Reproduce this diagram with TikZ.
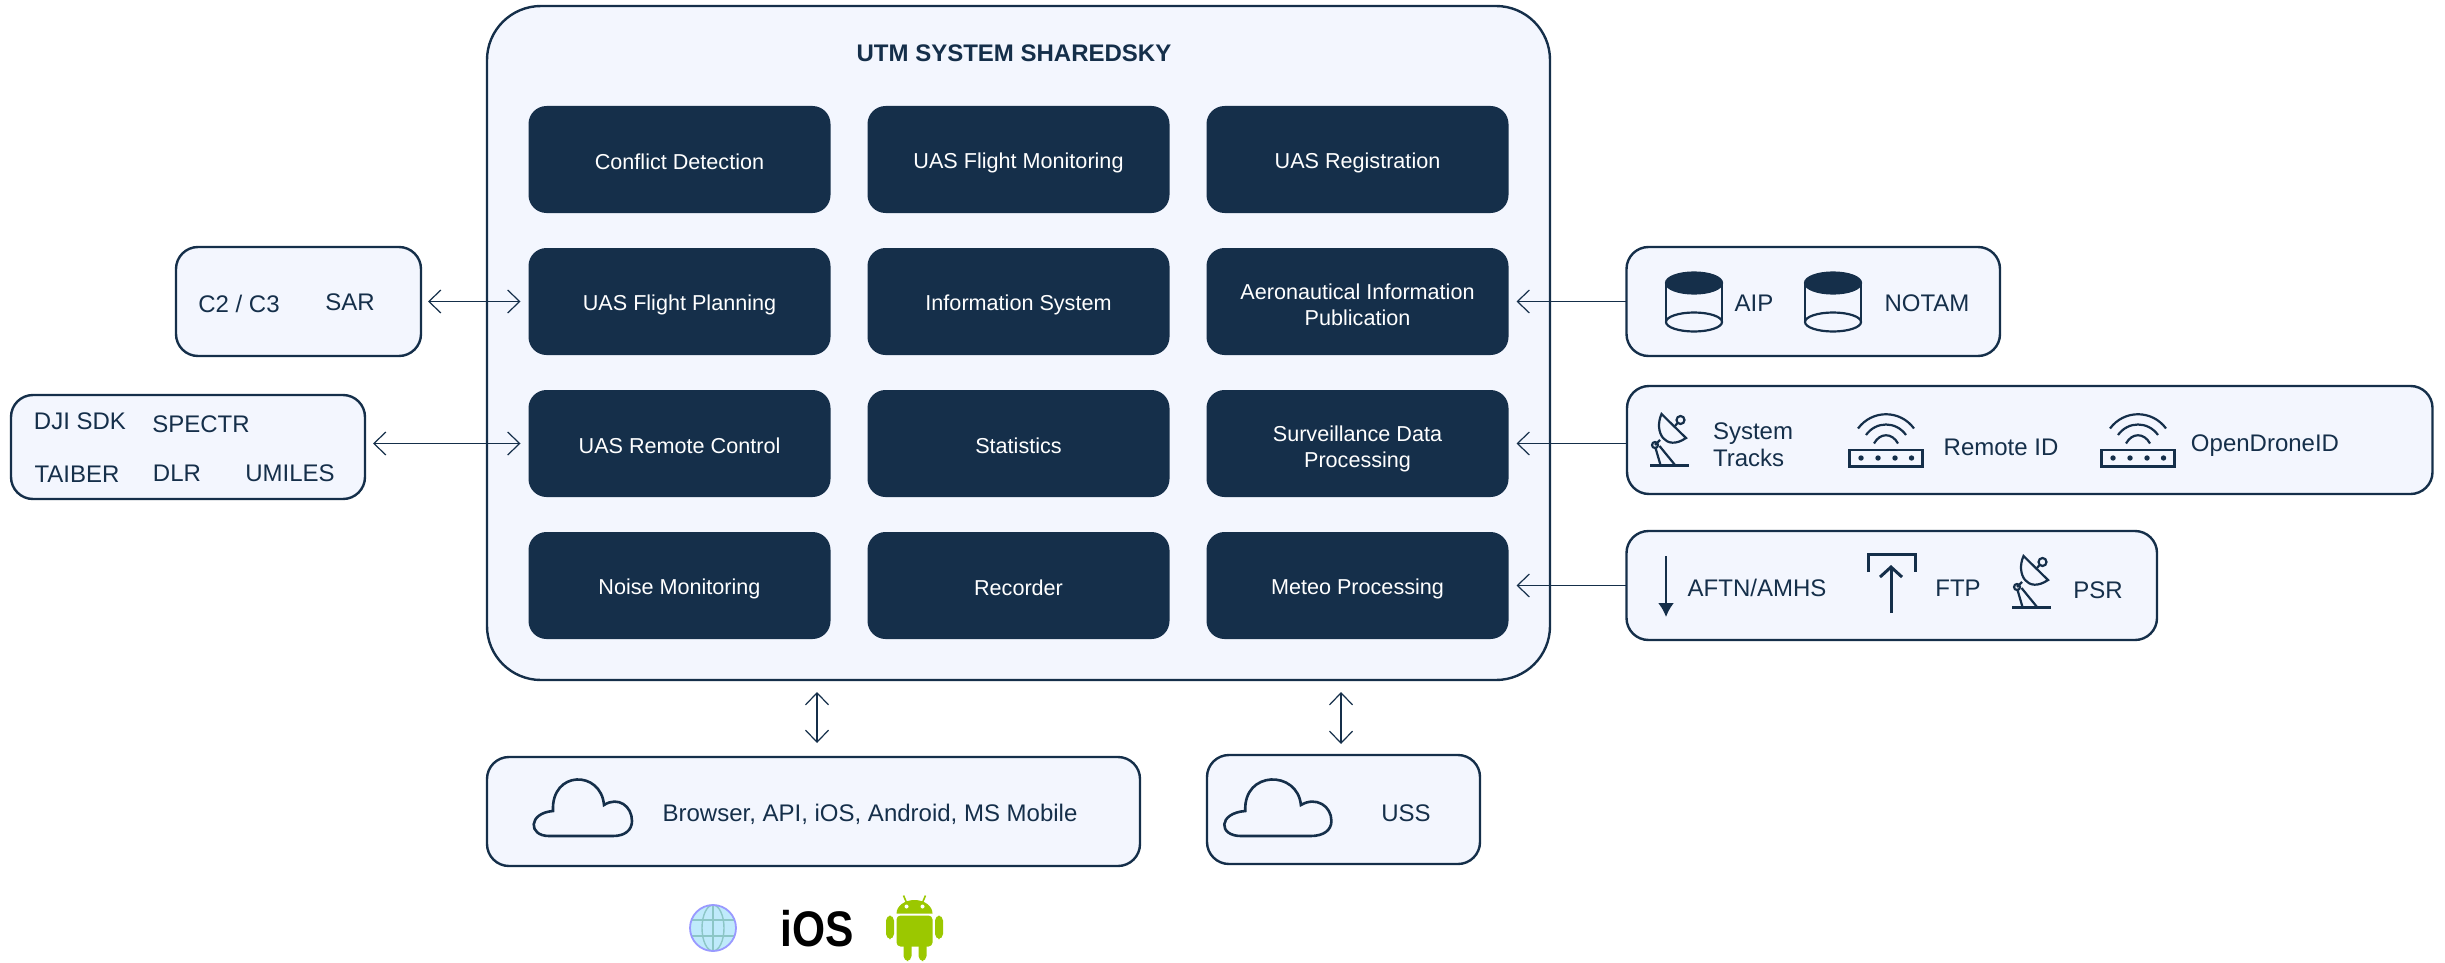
\documentclass[tikz,border=0pt]{standalone}
\usepackage{fontspec}
\setmainfont{Liberation Sans}
\usetikzlibrary{
  calc,
  positioning,
  arrows.meta
}
\definecolor{navy}{HTML}{152F4A}
\definecolor{paleblue}{HTML}{F3F6FE}
\definecolor{droidgreen}{HTML}{9BC800}
\newcommand{\cardtop}{\rule{0pt}{11.5pt}}
\newcommand{\cardend}{\rule[-1.7pt]{0pt}{0pt}}
\newcommand{\cardpair}{\rule{0pt}{13pt}}
\tikzset{
  drum/.pic = {
    \draw[icon] (-28,-19) -- (-28,20) (28,-19) -- (28,20);
    \draw[icon] (0,20) ellipse [x radius=28, y radius=9.5];
    \draw[icon, fill=navy] (0,-19) ellipse [x radius=28, y radius=10.5];
  },
  dish/.pic = {
    \draw[icon] (-8,-26) .. controls (-16,-8) and (-4,12) .. (16.5,-2) -- cycle;
    \draw[icon] (5.5,-14) -- (8,-17);
    \draw[icon] (11,-20) circle [radius=4];
    \draw[icon] (-9.5,0) -- (-14.5,5);
    \draw[icon] (-14.5,5) circle [radius=3];
    \draw[icon] (-14,8) -- (-9,25) (-10,6) -- (5.5,25);
    \draw[icon, line width=1.4pt] (-19.5,25.5) -- (19.5,25.5);
  },
  router/.pic = {
    \draw[icon, line width=1.3pt] (-36.5,9.5) rectangle (36.5,26);
    \foreach \px in {-25,-8,9,25.5} {
      \fill[navy] (\px,17.5) circle [radius=2.7];
    }
    \draw[icon] (-28,-12) .. controls (-14,-31) and (14,-31) .. (28,-12);
    \draw[icon] (-20,-5.5) .. controls (-10,-19.5) and (10,-19.5) .. (20,-5.5);
    \draw[icon] (-12,3) .. controls (-6,-8) and (6,-8) .. (12,3);
  },
  cloud/.pic = {
    \draw[icon, line width=1.3pt] (-34,28) .. controls (-55,28) and (-55,5) .. (-30,3)
      .. controls (-32,-38) and (18,-38) .. (21,-3)
      .. controls (35,-12) and (49,-2) .. (49,13)
      .. controls (49,22) and (42,28) .. (30,28) -- cycle;
  },
  droid/.pic = {
    \fill[droidgreen] (-18,-15) arc [start angle=180, end angle=360, x radius=18, y radius=13.5] -- cycle;
    \fill[droidgreen, rounded corners=2pt] (-18,-13) rectangle (18,18);
    \fill[droidgreen, rounded corners=2.5pt] (-28.5,-13) rectangle (-20.5,10.5) (20.5,-13) rectangle (28.5,10.5);
    \fill[droidgreen, rounded corners=2.5pt] (-11,10) rectangle (-3,32.5) (4,10) rectangle (12,32.5);
    \draw[droidgreen, line width=.8pt] (-8,-26) -- (-11,-33) (8,-26) -- (11,-33);
    \fill[white] (-8,-22) circle [radius=2] (8,-22) circle [radius=2];
  },
  globe/.pic = {
    \fill[cyan!25] (0,0) circle [radius=23];
    \draw[teal!45, line width=.7pt] (-21,-8) -- (21,-8) (-21,8) -- (21,8) (0,-23) -- (0,23);
    \draw[teal!45, line width=.7pt] (0,0) ellipse [x radius=11, y radius=23];
    \draw[blue!40, line width=.9pt] (0,0) circle [radius=23];
  }
}

\begin{document}
\begin{tikzpicture}[
		x=.5pt, y=-.5pt,
		every node/.style = {font=\fontsize{12}{13.5}\selectfont, text=navy, outer sep=0},
		icon/.style = {draw=navy, line width=1.1pt},
		card/.style = {rectangle, fill=navy, rounded corners=9pt, font=\fontsize{10.8}{13}\selectfont, text=white, align=center, minimum width=151pt, minimum height=53.5pt, inner sep=0, execute at begin node=\cardtop, execute at end node=\cardend},
		panel/.style = {rectangle, draw=navy, line width=1.2pt, fill=paleblue, rounded corners=11pt, inner sep=0},
		link/.style = {draw=navy, line width=.6pt, Straight Barb-Straight Barb, arrows={[length=6pt, width=11.5pt]}},
		feed/.style = {draw=navy, line width=.6pt, -{Straight Barb[length=6pt, width=11.5pt]}}
	]
	\useasboundingbox (0,0) rectangle (2445,963);

	% nodes
	\node[panel, rounded corners=27pt, anchor=north west, minimum width=531.5pt, minimum height=337pt] (outer) at (487,6) {};
	\node[font=\fontsize{12}{13.5}\selectfont\bfseries] (title) at (1014,53) {UTM SYSTEM SHAREDSKY};

	\node[card, below right=50pt and 20.75pt of outer.north west] (conflict) {Conflict Detection};
	\node[card, right=18.5pt of conflict] (monitoring) {UAS Flight Monitoring};
	\node[card, right=18.5pt of monitoring] (registration) {UAS Registration};
	\node[card, below=17.5pt of conflict] (planning) {UAS Flight Planning};
	\node[card, right=18.5pt of planning] (information) {Information System};
	\node[card, right=18.5pt of information] (publication) {\cardpair Aeronautical Information\\Publication};
	\node[card, below=17.5pt of planning] (remote) {UAS Remote Control};
	\node[card, right=18.5pt of remote] (statistics) {Statistics};
	\node[card, right=18.5pt of statistics] (surveillance) {\cardpair Surveillance Data\\Processing};
	\node[card, below=17.5pt of remote] (noise) {Noise Monitoring};
	\node[card, right=18.5pt of noise] (recorder) {Recorder};
	\node[card, right=18.5pt of recorder] (meteo) {Meteo Processing};

	\node[panel, left=53.75pt of planning, minimum width=122.5pt, minimum height=54.5pt] (c2box) {};
	\node[panel, left=81.75pt of remote, yshift=-1.75pt, minimum width=177pt, minimum height=52pt] (sdkbox) {};
	\node[panel, right=59pt of publication, minimum width=186.75pt, minimum height=54.5pt] (aipbox) {};
	\node[panel, right=59.25pt of surveillance, yshift=1.75pt, minimum width=402.75pt, minimum height=54pt] (trackbox) {};
	\node[panel, right=59pt of meteo, minimum width=265.25pt, minimum height=54.5pt] (aftnbox) {};
	\node[panel, below=38.5pt of outer.south west, anchor=north west, minimum width=326.5pt, minimum height=54.5pt] (clientbox) {};
	\node[panel, anchor=north west, minimum width=136.5pt, minimum height=54.5pt] (ussbox) at (1207,755) {};
	\coordinate (ussport) at (1341,755);

	\node (c2) at (239,304) {C2 / C3};
	\node (sar) at (350,302) {SAR};
	\node (dji) at (80,421) {DJI SDK};
	\node (spectr) at (201,424) {SPECTR};
	\node (taiber) at (77,474) {TAIBER};
	\node (dlr) at (177,473) {DLR};
	\node (umiles) at (290,473) {UMILES};

	\pic at (1694,302) {drum};
	\node (aip) at (1754,303) {AIP};
	\pic at (1833,302) {drum};
	\node (notam) at (1927,303) {NOTAM};

	\pic at (1669.5,440) {dish};
	\node[align=left] (tracks) at (1753,445) {System\\Tracks};
	\pic at (1886,440.5) {router};
	\node (remoteid) at (2001,447) {Remote ID};
	\pic at (2138,440.5) {router};
	\node (opendrone) at (2265,446) {OpenDroneID};

	\draw[navy, line width=1.1pt, -{Latex[length=7pt, width=8pt]}] (1666,556) -- (1666,617);
	\node (aftn) at (1757,588) {AFTN/AMHS};
	\draw[navy, line width=1.5pt] (1868,572) |- (1915,554) -- (1915,572);
	\draw[navy, line width=1.5pt, -{Straight Barb[length=5pt, width=11pt]}] (1891,613) -- (1891,565);
	\node (ftp) at (1958,588) {FTP};
	\pic at (2031.5,582) {dish};
	\node (psr) at (2098,590) {PSR};

	\pic at (583,808) {cloud};
	\node (clients) at (870,814) {Browser, API, iOS, Android, MS Mobile};
	\pic[xscale=1.09] at (1278,808) {cloud};
	\node (uss) at (1406,813) {USS};

	\pic at (713,928) {globe};
	\node[font=\fontsize{25}{25}\selectfont\bfseries, text=black] (ios) at (817,929) {\scalebox{.85}[1]{iOS}};
	\pic at (914.5,928.5) {droid};

	% connections
	\draw[link, shorten <=3.5pt, shorten >=4pt] (c2box.east |- planning.west) -- (planning.west);
	\draw[link, shorten <=4pt, shorten >=4pt] (sdkbox.east |- remote.west) -- (remote.west);
	\draw[feed, shorten >=4pt] (aipbox.west) -- (publication.east);
	\draw[feed, shorten >=4pt] (trackbox.west |- surveillance.east) -- (surveillance.east);
	\draw[feed, shorten >=4pt] (aftnbox.west) -- (meteo.east);
	\draw[link, shorten <=7pt, shorten >=6pt] (ios |- clientbox.north) -- (ios |- outer.south);
	\draw[link, shorten <=5.5pt, shorten >=6pt] (ussport) -- (ussport |- outer.south);
\end{tikzpicture}
\end{document}
